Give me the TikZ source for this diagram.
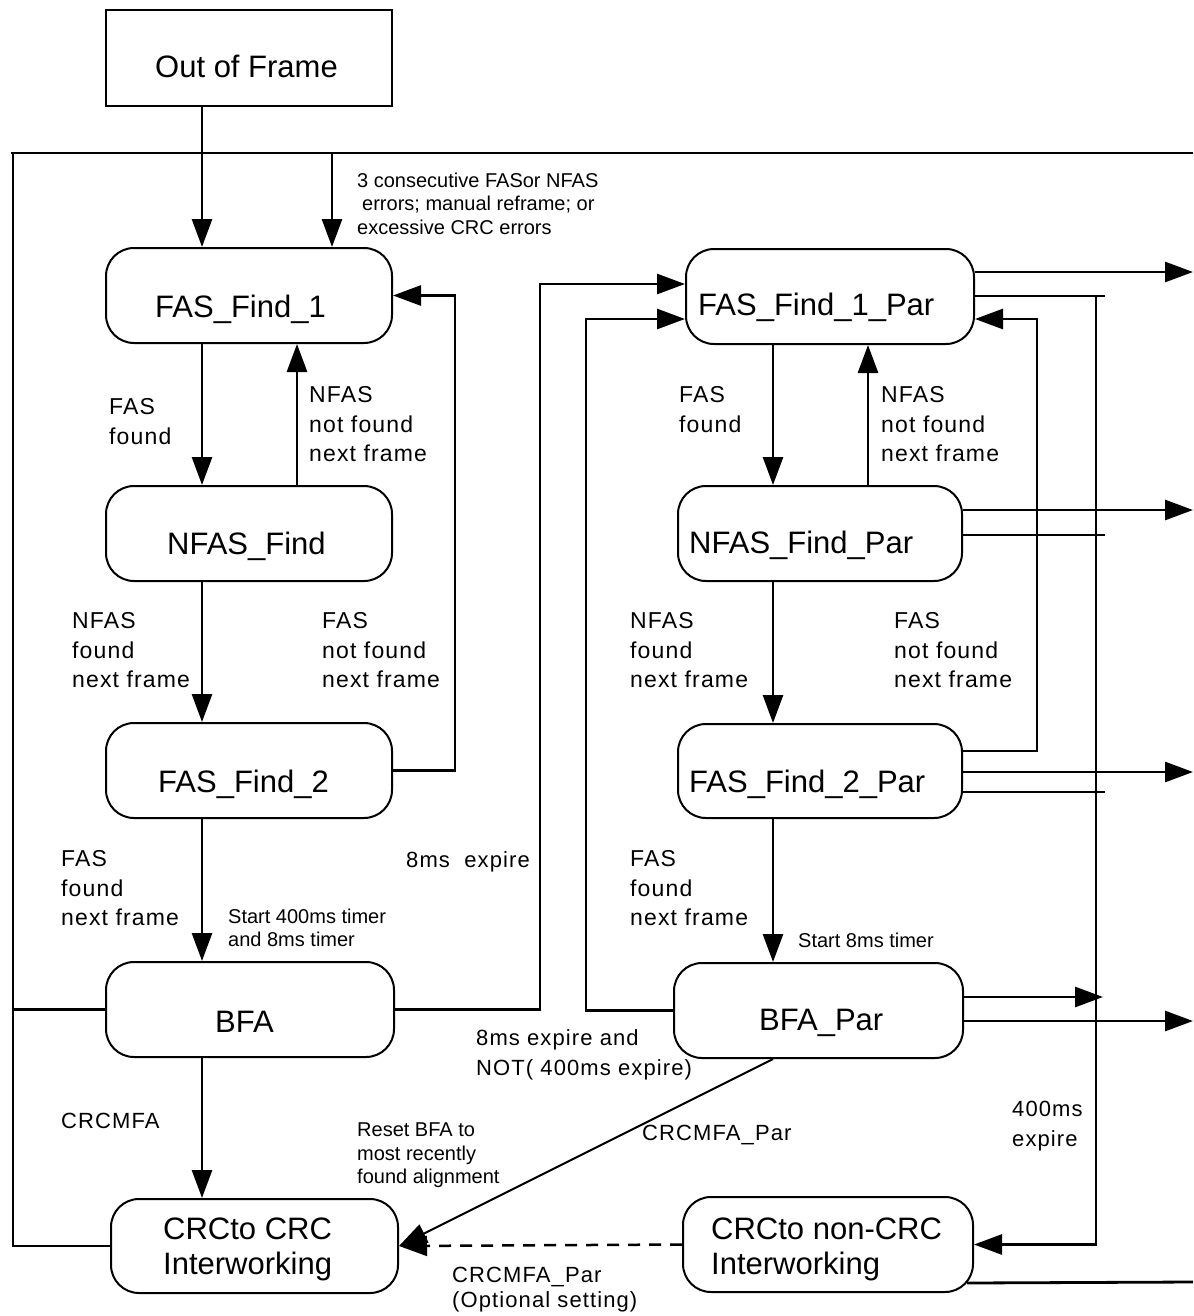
\documentclass[tikz,border=0pt]{standalone}
\usepackage{fontspec}
\setmainfont{Liberation Sans}
\newfontfamily\lblfont[LetterSpace=5]{Liberation Sans}
\usetikzlibrary{arrows.meta,calc}
\tikzset{
  stbox/.style={draw, line width=2pt, rounded corners=28pt, inner sep=0pt},
  sqbox/.style={draw, line width=2pt, inner sep=0pt},
  bt/.style={anchor=base west, inner sep=0pt, font=\fontsize{31}{35}\selectfont},
  bttwo/.style={anchor=north west, inner sep=0pt, align=left, font=\fontsize{31}{35}\selectfont},
  lbl/.style={anchor=north west, inner sep=0pt, align=left, font=\lblfont\fontsize{23}{29.5}\selectfont},
  lblone/.style={anchor=base west, inner sep=0pt, font=\lblfont\fontsize{22}{30}\selectfont},
  lblb/.style={anchor=north west, inner sep=0pt, align=left, font=\lblfont\fontsize{22}{30}\selectfont},
  sml/.style={anchor=north west, inner sep=0pt, align=left, font=\fontsize{20}{23.5}\selectfont},
  smlone/.style={anchor=base west, inner sep=0pt, font=\fontsize{20}{23.5}\selectfont},
  conn/.style={line width=2.8pt},
  arr/.style={conn, -{Triangle[length=28pt,width=20pt]}},
  thinarr/.style={line width=2pt, -{Triangle[length=28pt,width=20pt]}},
  dasharr/.style={line width=2.5pt, dash pattern=on 12pt off 9pt, -{Triangle[length=28pt,width=20pt]}},
}
\begin{document}
\begin{tikzpicture}[x=1pt,y=-1pt]
\useasboundingbox (0,0) rectangle (1193,1316);

% boxes
\node[sqbox, minimum width=286pt, minimum height=96pt] (oof) at (249,58) {};
\node[stbox, minimum width=286pt, minimum height=95pt] (f1) at (249,295.5) {};
\node[stbox, minimum width=286pt, minimum height=95pt] (nf) at (249,533.5) {};
\node[stbox, minimum width=286pt, minimum height=95pt] (f2) at (249,770.5) {};
\node[stbox, minimum width=288pt, minimum height=95pt] (bfa) at (250,1009.5) {};
\node[stbox, minimum width=287pt, minimum height=94pt] (crc) at (254.5,1246) {};
\node[stbox, minimum width=288pt, minimum height=95pt] (f1p) at (830,296.5) {};
\node[stbox, minimum width=284pt, minimum height=95pt] (nfp) at (820,533.5) {};
\node[stbox, minimum width=284pt, minimum height=94pt] (f2p) at (820,771) {};
\node[stbox, minimum width=289pt, minimum height=95pt] (bfap) at (818.5,1010.5) {};
\node[stbox, minimum width=290pt, minimum height=95pt] (ncrc) at (828,1244.5) {};

% box texts
\node[bt] (t0) at (155,78) {Out of Frame};
\node[bt] (t1) at (155,317) {FAS\_Find\_1};
\node[bt] (t2) at (167,554) {NFAS\_Find};
\node[bt] (t3) at (158,792) {FAS\_Find\_2};
\node[bt] (t4) at (215,1032) {BFA};
\node[bttwo] (t5) at (163,1218) {CRCto CRC\\Interworking};
\node[bt] (t6) at (698,315) {FAS\_Find\_1\_Par};
\node[bt] (t7) at (689,553) {NFAS\_Find\_Par};
\node[bt] (t8) at (689,792) {FAS\_Find\_2\_Par};
\node[bt] (t9) at (759,1030) {BFA\_Par};
\node[bttwo] (t10) at (711,1218) {CRCto non-CRC\\Interworking};

% helper coordinates
\coordinate (xA) at (202,0);
\coordinate (xB) at (297,0);
\coordinate (xR) at (332,0);
\coordinate (xF) at (455,0);
\coordinate (xG) at (540,0);
\coordinate (xH) at (586,0);
\coordinate (xP) at (773,0);
\coordinate (xQ) at (868,0);
\coordinate (xK) at (1037,0);
\coordinate (xS) at (1096,0);
\coordinate (xT) at (1105,0);
\coordinate (xU) at (1103,0);
\coordinate (xE) at (1193,0);
\coordinate (xL) at (13,0);
\coordinate (topL) at (11,153);
\coordinate (topR) at (1193,153);
\coordinate (y272) at (0,272);
\coordinate (y284) at (0,284);
\coordinate (y296) at (0,296);
\coordinate (y319) at (0,319);
\coordinate (y510) at (0,510);
\coordinate (y535) at (0,535);
\coordinate (y751) at (0,751);
\coordinate (y772) at (0,772);
\coordinate (y792) at (0,792);
\coordinate (y997) at (0,997);
\coordinate (y1021) at (0,1021);
\coordinate (y1282) at (0,1282);

% left frame lines
\draw[conn] (topL) -- (topR);
\draw[conn] (xL |- topL) -- (xL |- crc.west) -- (crc.west);
\draw[conn] (bfa.west) -- (xL |- bfa.west);

% left column
\draw[arr] (oof.south -| xA) -- (f1.north -| xA);
\draw[arr] (topL -| xR) -- (f1.north -| xR);
\draw[arr] (f1.south -| xA) -- (nf.north -| xA);
\draw[arr] (nf.north -| xB) -- (f1.south -| xB);
\draw[arr] (nf.south -| xA) -- (f2.north -| xA);
\draw[arr] (f2.east) -- (f2.east -| xF) -- (xF |- f1.east) -- (f1.east);
\draw[arr] (f2.south -| xA) -- (bfa.north -| xA);
\draw[arr] (bfa.south -| xA) -- (crc.north -| xA);

% cross links
\draw[arr] (bfa.east) -- (bfa.east -| xG) -- (xG |- y284) -- (f1p.west |- y284);
\draw[arr] (bfap.west) -- (bfap.west -| xH) -- (xH |- y319) -- (f1p.west |- y319);

% right column
\draw[arr] (f1p.south -| xP) -- (nfp.north -| xP);
\draw[arr] (nfp.north -| xQ) -- (f1p.south -| xQ);
\draw[arr] (nfp.south -| xP) -- (f2p.north -| xP);
\draw[arr] (f2p.south -| xP) -- (bfap.north -| xP);
\draw[arr] (f2p.east |- y751) -- (xK |- y751) -- (xK |- y319) -- (f1p.east |- y319);

% outgoing arrows
\draw[arr] (f1p.east |- y272) -- (xE |- y272);
\draw[arr] (nfp.east |- y510) -- (xE |- y510);
\draw[arr] (f2p.east |- y772) -- (xE |- y772);
\draw[arr] (bfap.east |- y1021) -- (xE |- y1021);

% 400ms bus
\draw[conn] (f1p.east |- y296) -- (xT |- y296);
\draw[conn] (nfp.east |- y535) -- (xT |- y535);
\draw[conn] (f2p.east |- y792) -- (xT |- y792);
\draw[arr] (bfap.east |- y997) -- (xU |- y997);
\draw[arr] (xS |- y296) -- (xS |- ncrc.east) -- (ncrc.east);
\draw[conn] ($(ncrc.south east)+(-7,-10)$) -- (xE |- y1282);

% to CRC to CRC
\draw[thinarr] (bfap.south -| xP) -- (crc.east);
\draw[dasharr] (ncrc.west) -- (crc.east);

% labels
\node[sml] (l0) at (357,172.6) {3 consecutive FASor NFAS\\\hspace*{5pt}errors; manual reframe; or\\excessive CRC errors};
\node[lbl] (l1) at (109,398.4) {FAS\\found};
\node[lbl] (l2) at (309,386.4) {NFAS\\not found\\next frame};
\node[lbl] (l3) at (72,612.4) {NFAS\\found\\next frame};
\node[lbl] (l4) at (322,612.4) {FAS\\not found\\next frame};
\node[lbl] (l5) at (61,850.4) {FAS\\found\\next frame};
\node[lblone] (l6) at (406,867) {8ms\ \ expire};
\node[sml] (l7) at (228,908.6) {Start 400ms timer\\and 8ms timer};
\node[lbl] (r1) at (679,386.4) {FAS\\found};
\node[lbl] (r2) at (881,386.4) {NFAS\\not found\\next frame};
\node[lbl] (r3) at (630,612.4) {NFAS\\found\\next frame};
\node[lbl] (r4) at (894,612.4) {FAS\\not found\\next frame};
\node[lbl] (r5) at (630,850.4) {FAS\\found\\next frame};
\node[smlone] (r6) at (798,947) {Start 8ms timer};
\node[lblb] (b1) at (476,1029.2) {8ms expire and\\NOT( 400ms expire)};
\node[lblone] (b2) at (61,1128) {CRCMFA};
\node[sml] (b3) at (357,1122.6) {Reset BFA to\\most recently\\found alignment};
\node[lblone] (b4) at (642,1140) {CRCMFA\_Par};
\node[lblb] (b5) at (1012,1101.2) {400ms\\expire};
\node[anchor=north west, inner sep=0pt, align=left, font=\lblfont\fontsize{22}{25}\selectfont] (b6) at (452,1267.2) {CRCMFA\_Par\\(Optional setting)};
\end{tikzpicture}
\end{document}
